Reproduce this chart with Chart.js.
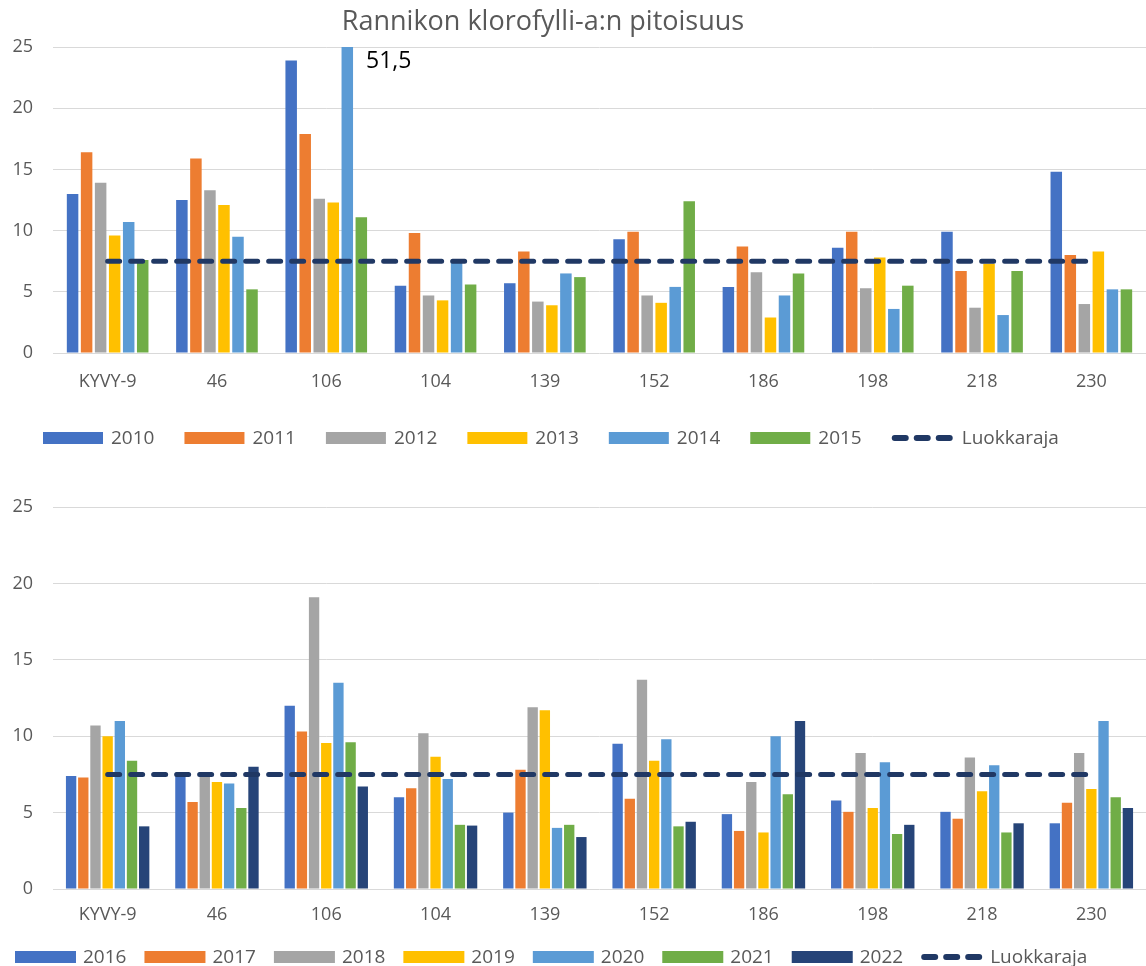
<!DOCTYPE html>
<html>
<head>
<meta charset="utf-8">
<script src="https://cdn.jsdelivr.net/npm/chart.js@4.4.1/dist/chart.umd.min.js"></script>
<style>
  html, body { margin: 0; padding: 0; background: #fff; }
  #wrap { position: relative; width: 1146px; height: 966px; overflow: hidden; }
  canvas { position: absolute; left: 0; }
  #chart-top { top: 0; }
  #chart-bottom { top: 465px; }
</style>
</head>
<body>
<div id="wrap">
  <canvas id="chart-top" width="1146" height="465"></canvas>
  <canvas id="chart-bottom" width="1146" height="501"></canvas>
</div>
<script>
// Sites (categories)
const sites = ['KYVY-9', '46', '106', '104', '139', '152', '186', '198', '218', '230'];
const yTicks = [0, 5, 10, 15, 20, 25];

// Top chart, 2010-2015
const years1 = ['2010', '2011', '2012', '2013', '2014', '2015'];
const v2010 = [13.0, 12.5, 23.9, 5.5, 5.7, 9.3, 5.4, 8.6, 9.9, 14.8];
const v2011 = [16.4, 15.9, 17.9, 9.8, 8.3, 9.9, 8.7, 9.9, 6.7, 8.0];
const v2012 = [13.9, 13.3, 12.6, 4.7, 4.2, 4.7, 6.6, 5.3, 3.7, 4.0];
const v2013 = [9.6, 12.1, 12.3, 4.3, 3.9, 4.1, 2.9, 7.8, 7.3, 8.3];
const v2014 = [10.7, 9.5, 51.5, 7.5, 6.5, 5.4, 4.7, 3.6, 3.1, 5.2];
const v2015 = [7.6, 5.2, 11.1, 5.6, 6.2, 12.4, 6.5, 5.5, 6.7, 5.2];

// Bottom chart, 2016-2022
const years2 = ['2016', '2017', '2018', '2019', '2020', '2021', '2022'];
const v2016 = [7.4, 7.6, 12.0, 6.0, 5.0, 9.5, 4.9, 5.8, 5.05, 4.3];
const v2017 = [7.3, 5.7, 10.3, 6.6, 7.8, 5.9, 3.8, 5.05, 4.6, 5.65];
const v2018 = [10.7, 7.4, 19.1, 10.2, 11.9, 13.7, 7.0, 8.9, 8.6, 8.9];
const v2019 = [10.0, 7.0, 9.55, 8.65, 11.7, 8.4, 3.7, 5.3, 6.4, 6.55];
const v2020 = [11.0, 6.9, 13.5, 7.2, 4.0, 9.8, 10.0, 8.3, 8.1, 11.0];
const v2021 = [8.4, 5.3, 9.6, 4.2, 4.2, 4.1, 6.2, 3.6, 3.7, 6.0];
const v2022 = [4.1, 8.0, 6.7, 4.15, 3.4, 4.4, 11.0, 4.2, 4.3, 5.3];

// Class limit (Luokkaraja)
const limitLabel = 'Luokkaraja';
const limitValues = [7.5, 7.5, 7.5, 7.5, 7.5, 7.5, 7.5, 7.5, 7.5, 7.5];

const titleText = 'Rannikon klorofylli-a:n pitoisuus';
const outlierLabel = '51,5';

const colors = ['#4472C4', '#ED7D31', '#A5A5A5', '#FFC000', '#5B9BD5', '#70AD47', '#264478'];
const limitColor = '#203864';

Chart.defaults.font.family = "'Open Sans', sans-serif";
Chart.defaults.color = '#595959';

// Legend drawn on the canvas so item spacing can follow the original
const canvasLegend = {
  id: 'canvasLegend',
  afterDraw(chart, args, opts) {
    const { ctx } = chart;
    ctx.save();
    ctx.font = opts.font;
    ctx.textBaseline = 'middle';
    ctx.textAlign = 'left';
    let x = opts.x;
    const y = opts.y;
    chart.data.datasets.forEach((ds) => {
      if (ds.type === 'line') {
        ctx.strokeStyle = ds.borderColor;
        ctx.lineWidth = 6;
        ctx.lineCap = 'round';
        ctx.setLineDash([11, 11]);
        ctx.beginPath();
        ctx.moveTo(x + 3, y);
        ctx.lineTo(x + 58, y);
        ctx.stroke();
        ctx.setLineDash([]);
        x += 62 + opts.gap;
      } else {
        ctx.fillStyle = ds.backgroundColor;
        ctx.fillRect(x, y - opts.boxH / 2, opts.boxW, opts.boxH);
        x += opts.boxW + opts.gap;
      }
      ctx.fillStyle = '#595959';
      ctx.fillText(ds.label, x, y + 1);
      x += ctx.measureText(ds.label).width + opts.padding;
    });
    ctx.restore();
  },
};

const titleAndNote = {
  id: 'titleAndNote',
  afterDraw(chart, args, opts) {
    if (!opts.show) return;
    const { ctx } = chart;
    ctx.save();
    ctx.font = "27px 'Open Sans', sans-serif";
    ctx.fillStyle = '#595959';
    ctx.textAlign = 'center';
    ctx.textBaseline = 'middle';
    ctx.fillText(titleText, 543, 22);
    // value of the bar that runs off the axis
    const bar = chart.getDatasetMeta(4).data[2];
    ctx.font = "23px 'Open Sans', sans-serif";
    ctx.fillStyle = '#000';
    ctx.textAlign = 'left';
    ctx.fillText(outlierLabel, bar.x + bar.width / 2 + 13, chart.chartArea.top + 14);
    ctx.restore();
  },
};

function makeChart(id, years, series, cfg) {
  const datasets = [{
    type: 'line',
    label: limitLabel,
    data: limitValues,
    borderColor: limitColor,
    borderWidth: 5,
    borderDash: [12, 11],
    borderCapStyle: 'round',
    pointRadius: 0,
    fill: false,
    order: 0,
  }];
  years.forEach((y, i) => {
    datasets.push({
      type: 'bar',
      label: y,
      data: series[i],
      backgroundColor: colors[i],
      categoryPercentage: cfg.catPct,
      barPercentage: cfg.barPct,
      order: 1,
    });
  });
  // bars first in legend, line last
  datasets.push(datasets.shift());

  return new Chart(document.getElementById(id), {
    type: 'bar',
    data: { labels: sites, datasets },
    options: {
      responsive: false,
      animation: false,
      devicePixelRatio: 1,
      layout: { padding: { top: cfg.padTop, left: 0, right: 0, bottom: 0 } },
      plugins: {
        legend: { display: false },
        tooltip: { enabled: false },
        canvasLegend: cfg.legend,
        titleAndNote: { show: cfg.title },
      },
      scales: {
        x: {
          grid: { display: false, drawTicks: false },
          border: { display: false },
          ticks: { font: { size: 18 }, padding: cfg.xPad, color: '#595959' },
          afterFit(s) { s.height = cfg.xHeight; },
        },
        y: {
          min: 0,
          max: 25,
          afterBuildTicks(s) { s.ticks = yTicks.map((v) => ({ value: v })); },
          grid: { color: '#d9d9d9', lineWidth: 1, drawTicks: false },
          border: { display: false },
          ticks: { font: { size: 18 }, padding: 20, color: '#595959' },
          afterFit(s) { s.width = 53; },
        },
      },
    },
    plugins: [canvasLegend, titleAndNote],
  });
}

makeChart('chart-top', years1, [v2010, v2011, v2012, v2013, v2014, v2015], {
  catPct: 0.77,
  barPct: 0.82,
  padTop: 47,
  xHeight: 112,
  xPad: 18,
  title: true,
  legend: {
    x: 43, y: 438, boxW: 60, boxH: 12, gap: 8, padding: 30, font: "19px 'Open Sans', sans-serif",
  },
});

makeChart('chart-bottom', years2, [v2016, v2017, v2018, v2019, v2020, v2021, v2022], {
  catPct: 0.78,
  barPct: 0.85,
  padTop: 42,
  xHeight: 77,
  xPad: 15,
  title: false,
  legend: {
    x: 15, y: 492, boxW: 61, boxH: 12, gap: 7, padding: 18, font: "19px 'Open Sans', sans-serif",
  },
});
</script>
</body>
</html>
